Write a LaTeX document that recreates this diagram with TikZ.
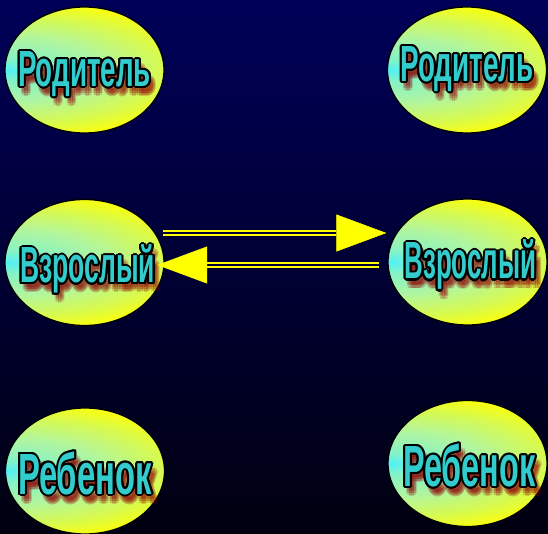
\documentclass[tikz,border=0pt]{standalone}
\usepackage{fontspec}
\setmainfont{Liberation Sans}
\usepackage{graphicx}
\usepackage{contour}
\usetikzlibrary{shapes.geometric, arrows.meta, positioning, calc}
\definecolor{bgTop}{HTML}{000058}
\definecolor{bgBottom}{HTML}{000010}
\definecolor{wordCyan}{HTML}{33CCCC}
\definecolor{shadowRed}{HTML}{900000}
\definecolor{arrowYellow}{HTML}{FFFF00}
\definecolor{glowCyan}{HTML}{50F0F5}
\definecolor{glowGreen}{HTML}{B0F5A0}
\pgfdeclareradialshading{roleglow}{\pgfpoint{0bp}{0bp}}{color(0bp)=(glowCyan); color(3bp)=(glowGreen!55!glowCyan); color(9bp)=(glowGreen); color(15bp)=(yellow!50!glowGreen); color(20bp)=(yellow); color(50bp)=(yellow)}
\contourlength{2pt}
% word squeezed to a box: width, cap height, text
\newcommand{\roleword}[3]{\resizebox{#1}{#2}{\fontsize{48}{50}\selectfont\bfseries\smash{#3}\vphantom{P}}}

\begin{document}
\begin{tikzpicture}[x=1pt, y=-1pt,
    roleoval/.style={ellipse, draw=black, line width=1.3pt, fill=yellow, minimum width=159pt, minimum height=126pt, inner sep=0pt,
        path picture={\shade[shading=roleglow] ($(path picture bounding box.west)+(2pt,0)$) ellipse [x radius=260pt, y radius=90pt];}},
    roletext/.style={inner sep=0pt, text=wordCyan},
    roleshadow/.style={inner sep=0pt, text=shadowRed, opacity=0.2},
    dblarrow/.style={draw=arrowYellow, line width=2.3pt, double=bgTop!55!bgBottom, double distance=2.3pt,
        -{Triangle[length=50pt, width=37pt, line width=0.5pt, fill=arrowYellow]}}
]
    \useasboundingbox (0,0) rectangle (548,534);
    \fill[top color=bgTop, bottom color=bgBottom] (0,0) rectangle (548,534);

    \node[roleoval] (parentL) at (84.5,70) {};
    \node[roleoval] (parentR) at (467,70) {};
    \node[roleoval] (adultL) at (84.5,262.5) {};
    \node[roleoval] (adultR) at (467.5,262) {};
    \node[roleoval] (childL) at (85,471) {};
    \node[roleoval] (childR) at (467.5,463.5) {};

    % soft red shadows behind the words
    \foreach \dx/\dy in {4/6, 2/4, 6/4, 2/8, 6/8, 4/3, 4/9, 1/6, 7/6} {
        \node[roleshadow] at ($(parentL)+(\dx,\dy)$) {\roleword{133pt}{35pt}{Родитель}};
        \node[roleshadow] at ($(parentR)+(\dx,\dy-5)$) {\roleword{133pt}{35pt}{Родитель}};
        \node[roleshadow] at ($(adultL)+(\dx+3,\dy+4)$) {\roleword{135pt}{35pt}{Взрослый}};
        \node[roleshadow] at ($(adultR)+(\dx+3,\dy)$) {\roleword{132pt}{36pt}{Взрослый}};
        \node[roleshadow] at ($(childL)+(\dx,\dy+4)$) {\roleword{134pt}{40pt}{Ребенок}};
        \node[roleshadow] at ($(childR)+(\dx+2,\dy+4)$) {\roleword{132pt}{40pt}{Ребенок}};
    }

    \node[roletext] (parentLtxt) at (parentL) {\contour{black}{\roleword{133pt}{35pt}{Родитель}}};
    \node[roletext] (parentRtxt) at ($(parentR)+(0,-5)$) {\contour{black}{\roleword{133pt}{35pt}{Родитель}}};
    \node[roletext] (adultLtxt) at ($(adultL)+(3,4)$) {\contour{black}{\roleword{135pt}{35pt}{Взрослый}}};
    \node[roletext] (adultRtxt) at ($(adultR)+(3,0)$) {\contour{black}{\roleword{132pt}{36pt}{Взрослый}}};
    \node[roletext] (childLtxt) at ($(childL)+(0,4)$) {\contour{black}{\roleword{134pt}{40pt}{Ребенок}}};
    \node[roletext] (childRtxt) at ($(childR)+(2,4)$) {\contour{black}{\roleword{132pt}{40pt}{Ребенок}}};

    \draw[dblarrow] ([xshift=-1.5pt, yshift=29.5pt]adultL.east) -- ([xshift=-1pt, yshift=29pt]adultR.west);
    \draw[dblarrow] ([xshift=-8pt, yshift=-3pt]adultR.west) -- ([xshift=-7.5pt, yshift=-2.5pt]adultL.east);
\end{tikzpicture}
\end{document}
